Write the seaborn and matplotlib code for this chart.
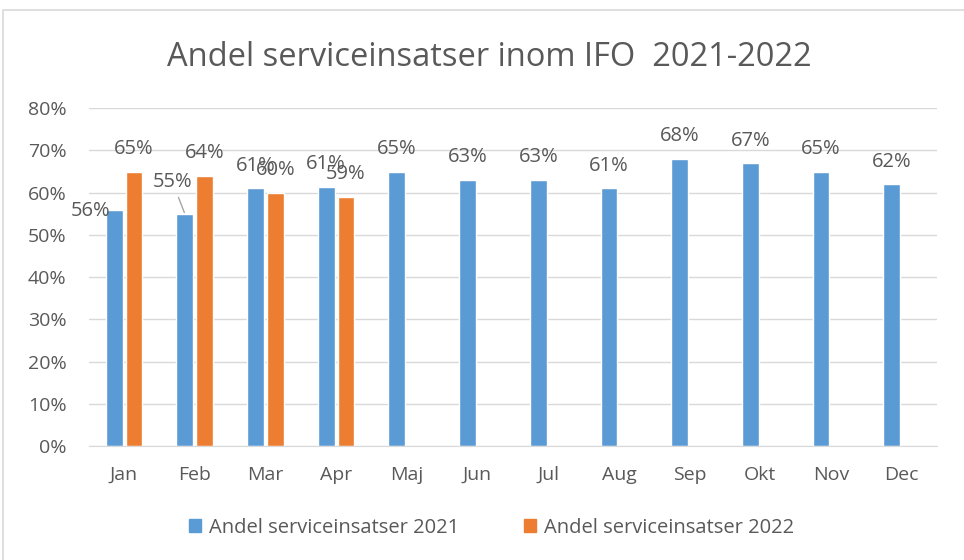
import matplotlib.pyplot as plt
import matplotlib.patches as mpatches
import seaborn as sns
import pandas as pd
import numpy as np

months = ['Jan', 'Feb', 'Mar', 'Apr', 'Maj', 'Jun', 'Jul', 'Aug', 'Sep', 'Okt', 'Nov', 'Dec']
share_2021 = [0.56, 0.55, 0.61, 0.614, 0.65, 0.63, 0.63, 0.61, 0.68, 0.67, 0.65, 0.62]
share_2022 = [0.65, 0.64, 0.60, 0.59, None, None, None, None, None, None, None, None]
series = ['Andel serviceinsatser 2021', 'Andel serviceinsatser 2022']
colors = ['#5b9bd5', '#ed7d31']

df = pd.DataFrame({
    'Månad': months * 2,
    'Andel': share_2021 + share_2022,
    'Serie': [series[0]] * 12 + [series[1]] * 12,
})

sns.set_style('white')
plt.rcParams['font.family'] = ['Open Sans', 'DejaVu Sans']
grey = '#595959'

fig = plt.figure(figsize=(9.64, 5.6), dpi=100)
ax = fig.add_axes([0.092, 0.203, 0.88, 0.604])

sns.barplot(data=df, x='Månad', y='Andel', hue='Serie', palette=colors,
            width=0.56, gap=0.15, ax=ax, legend=False, saturation=1)

ax.set_ylim(0, 0.8)
ax.set_yticks(np.arange(0, 0.81, 0.1))
ax.set_yticklabels([f'{int(round(t * 100))}%' for t in np.arange(0, 0.81, 0.1)])
ax.grid(axis='y', color='#d9d9d9', linewidth=1)
ax.set_axisbelow(True)
for s in ['top', 'right', 'left']:
    ax.spines[s].set_visible(False)
ax.spines['bottom'].set_color('#d9d9d9')
ax.tick_params(axis='both', length=0, labelsize=14, labelcolor=grey)
ax.tick_params(axis='y', pad=16)
ax.tick_params(axis='x', pad=14)
ax.set_xlabel('')
ax.set_ylabel('')
ax.set_xlim(-0.5, 11.5)

# data labels (Jan and Feb 2021 sit beside their bars)
offsets = {(0, 0): (-17, -8), (1, 0): (-9, 16)}
for si, cont in enumerate(ax.containers):
    vals = share_2021 if si == 0 else share_2022
    for i, (bar, v) in enumerate(zip(cont, vals)):
        if v is None:
            continue
        x = bar.get_x() + bar.get_width() / 2
        dx, dy = offsets.get((i, si), (0, 9))
        kw = {}
        if (i, si) == (1, 0):
            kw['arrowprops'] = dict(arrowstyle='-', color='#a6a6a6', lw=1,
                                    shrinkA=2, shrinkB=1)
        ax.annotate(f'{int(round(v * 100))}%', xy=(x, v), xytext=(dx, dy),
                    textcoords='offset points', ha='center', va='bottom',
                    fontsize=14.5, color=grey, **kw)

fig.suptitle('Andel serviceinsatser inom IFO  2021-2022', x=0.508, y=0.927,
             fontsize=23.5, color=grey)

handles = [mpatches.Patch(color=c, label=l) for c, l in zip(colors, series)]
fig.legend(handles=handles, loc='center', bbox_to_anchor=(0.51, 0.058), ncol=2,
           frameon=False, fontsize=14.5, labelcolor=grey, handlelength=0.6,
           handleheight=0.6, columnspacing=3.2, handletextpad=0.4)

border = mpatches.Rectangle((3 / 964, -0.01), 1.0, 1 - 10 / 560 + 0.01,
                            transform=fig.transFigure, fill=False,
                            edgecolor='#d9d9d9', linewidth=1.2)
fig.patches.append(border)

fig.savefig('out.png', dpi=100)
